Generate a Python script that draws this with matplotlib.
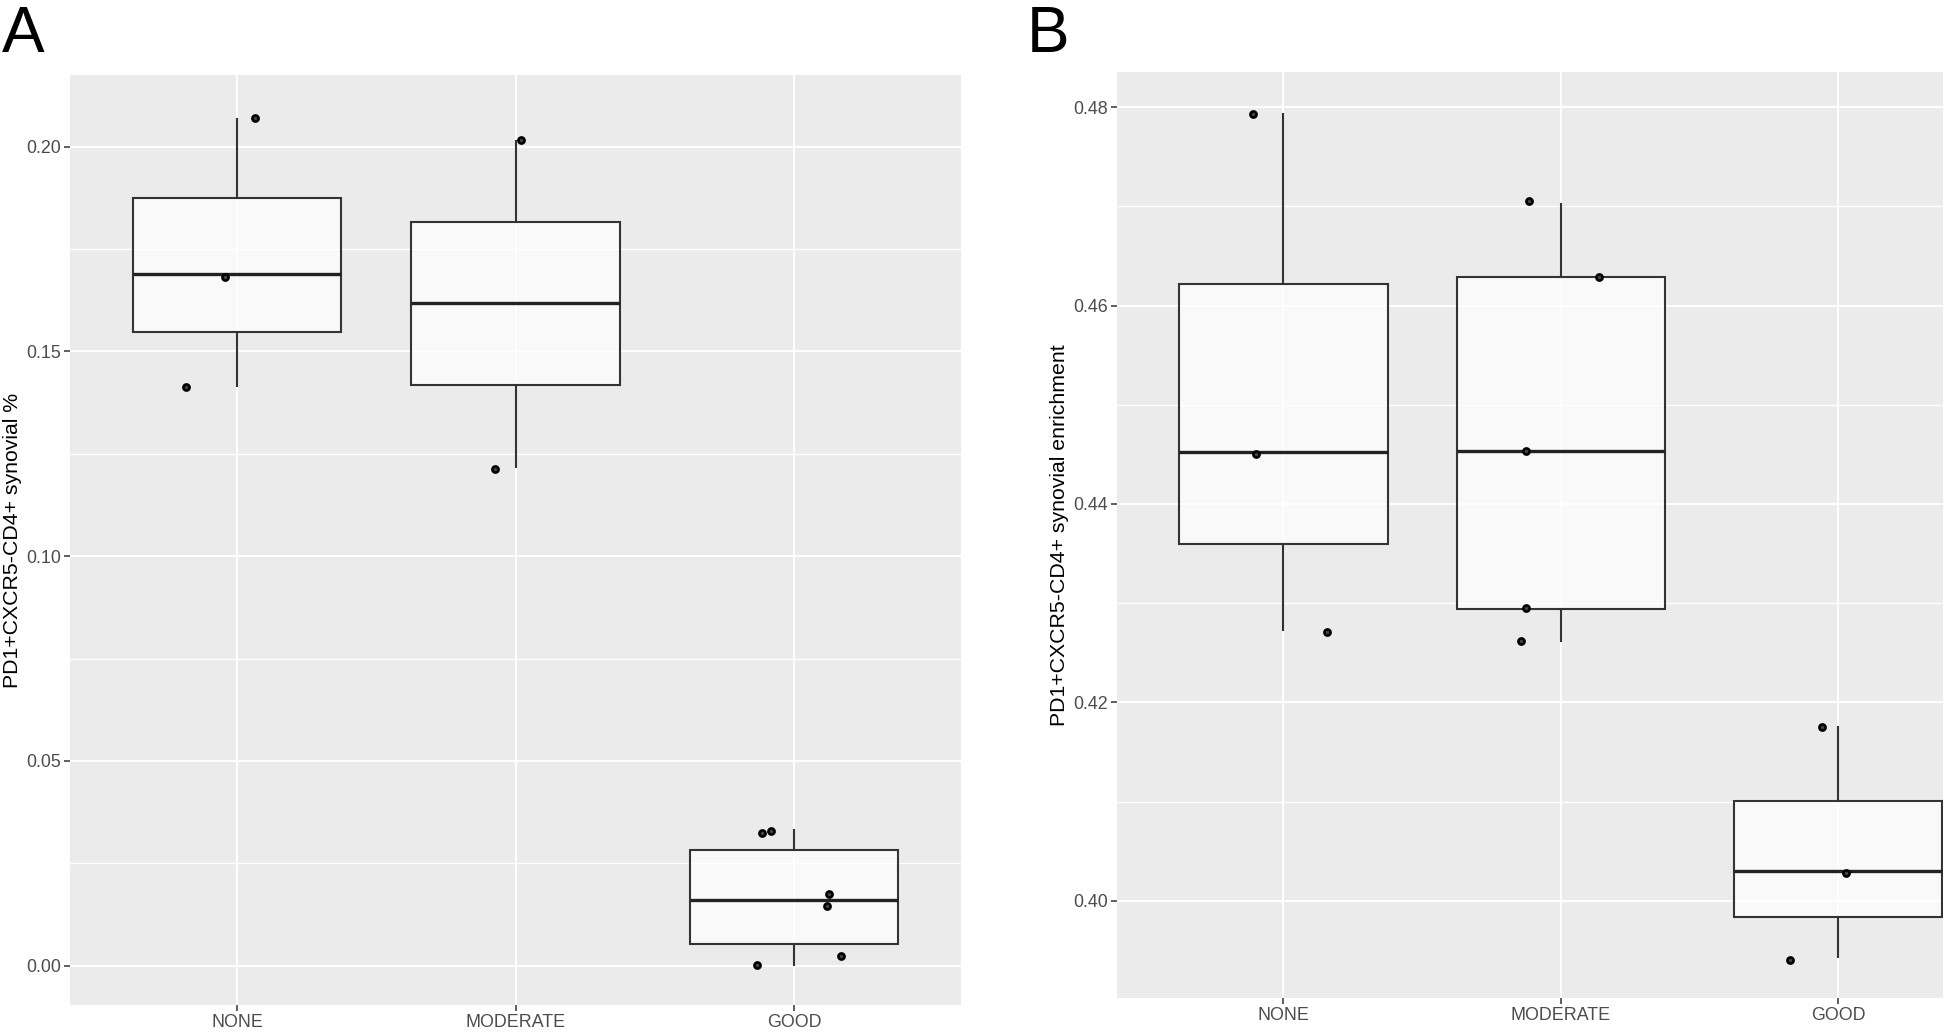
import numpy as np
import matplotlib.pyplot as plt
from matplotlib.ticker import MultipleLocator

plt.rcParams['font.family'] = ['Liberation Sans', 'DejaVu Sans']

groups = ['NONE', 'MODERATE', 'GOOD']

# panel A: box summaries
a_lo = [0.1416, 0.1218, 0.0002]
a_q1 = [0.1547, 0.1417, 0.0053]
a_med = [0.1690, 0.1618, 0.0160]
a_q3 = [0.1875, 0.1817, 0.0283]
a_hi = [0.2068, 0.2014, 0.0331]
# panel A: jittered points (group index, horizontal offset, value)
a_pt_grp = [0, 0, 0, 1, 1, 2, 2, 2, 2, 2, 2]
a_pt_dx = [0.063, -0.044, -0.184, 0.020, -0.073, -0.114, -0.084, 0.127, 0.120, 0.169, -0.133]
a_pt_y = [0.2069, 0.1681, 0.1413, 0.2016, 0.1212, 0.0325, 0.0329, 0.0176, 0.0146, 0.0024, 0.0002]

# panel B
b_lo = [0.4273, 0.4262, 0.3943]
b_q1 = [0.4360, 0.4294, 0.3984]
b_med = [0.4452, 0.4453, 0.4030]
b_q3 = [0.4622, 0.4629, 0.4101]
b_hi = [0.4793, 0.4702, 0.4175]
b_pt_grp = [0, 0, 0, 1, 1, 1, 1, 1, 2, 2, 2]
b_pt_dx = [-0.110, -0.100, 0.158, -0.114, 0.138, -0.126, -0.126, -0.144, -0.060, 0.026, -0.174]
b_pt_y = [0.4793, 0.4450, 0.4271, 0.4705, 0.4629, 0.4453, 0.4295, 0.4262, 0.4175, 0.4028, 0.3940]

W, H = 1946, 1036
fig = plt.figure(figsize=(W / 100, H / 100), dpi=100)


def panel(rect, lo, q1, med, q3, hi, pg, pdx, py, ylim, major, minor, ylabel, xlim):
    ax = fig.add_axes(rect)
    ax.set_facecolor('#EBEBEB')
    for s in ax.spines.values():
        s.set_visible(False)
    stats = []
    for i in range(len(groups)):
        stats.append(dict(whislo=lo[i], q1=q1[i], med=med[i], q3=q3[i], whishi=hi[i], fliers=[]))
    ax.bxp(stats, positions=[1, 2, 3], widths=0.75, showcaps=False, patch_artist=True,
           boxprops=dict(facecolor=(1, 1, 1, 0.7), edgecolor='#333333', linewidth=1.5),
           medianprops=dict(color='#222222', linewidth=2.4, solid_capstyle='butt'),
           whiskerprops=dict(color='#333333', linewidth=1.5),
           zorder=3)
    px = np.array(pg) + 1 + np.array(pdx)
    ax.plot(px, py, linestyle='none', marker='o', ms=4.4, mfc='#444444', mec='black',
            mew=1.9, zorder=4)
    ax.set_xlim(*xlim)
    ax.set_ylim(*ylim)
    ax.yaxis.set_major_locator(MultipleLocator(major))
    ax.yaxis.set_minor_locator(MultipleLocator(minor))
    ax.yaxis.set_major_formatter(plt.FormatStrFormatter('%.2f'))
    ax.set_xticks([1, 2, 3])
    ax.set_xticklabels(groups)
    ax.set_axisbelow(True)
    ax.grid(which='major', color='white', linewidth=1.4)
    ax.grid(which='minor', axis='y', color='white', linewidth=1.0)
    ax.tick_params(which='major', length=4, width=1.1, color='#333333',
                   labelsize=12.9, labelcolor='#4D4D4D', pad=2.5)
    ax.tick_params(which='minor', length=0)
    ax.set_ylabel(ylabel, fontsize=15.3, color='black')
    # right side of the rotated label sits about 48 px left of the panel
    ax.yaxis.set_label_coords(-48 / (rect[2] * W), 0.5)
    return ax


axA = panel([70 / W, 1 - 1005 / H, 891 / W, 930 / H],
            a_lo, a_q1, a_med, a_q3, a_hi, a_pt_grp, a_pt_dx, a_pt_y,
            (-0.0096, 0.2175), 0.05, 0.025,
            'PD1+CXCR5-CD4+ synovial %', (0.4, 3.6))
axB = panel([1117 / W, 1 - 998 / H, 826 / W, 926.5 / H],
            b_lo, b_q1, b_med, b_q3, b_hi, b_pt_grp, b_pt_dx, b_pt_y,
            (0.3902, 0.4836), 0.02, 0.01,
            'PD1+CXCR5-CD4+ synovial enrichment', (0.4, 3.377))

fig.text(2 / W, 1 - 52 / H, 'A', fontsize=46, va='baseline', ha='left')
fig.text(1027 / W, 1 - 52 / H, 'B', fontsize=46, va='baseline', ha='left')

fig.savefig('out.png', dpi=100, facecolor='white')
